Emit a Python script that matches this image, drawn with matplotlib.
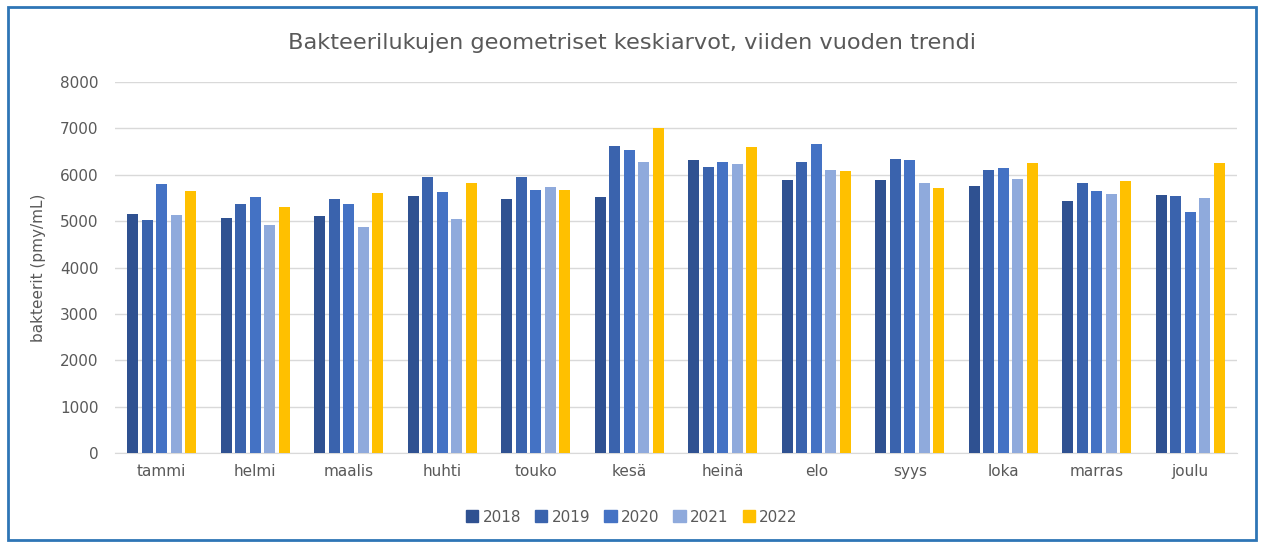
import numpy as np
import matplotlib.pyplot as plt
import matplotlib.patches as mpatches

# Kuukaudet ja vuodet
months = ['tammi', 'helmi', 'maalis', 'huhti', 'touko', 'kesä',
          'heinä', 'elo', 'syys', 'loka', 'marras', 'joulu']
years = ['2018', '2019', '2020', '2021', '2022']

v2018 = [5165, 5064, 5121, 5550, 5471, 5514, 6329, 5900, 5900, 5757, 5436, 5571]
v2019 = [5020, 5364, 5471, 5957, 5957, 6614, 6164, 6286, 6350, 6100, 5821, 5536]
v2020 = [5793, 5529, 5364, 5636, 5671, 6529, 6286, 6657, 6329, 6143, 5657, 5207]
v2021 = [5143, 4914, 4879, 5043, 5736, 6286, 6229, 6100, 5821, 5921, 5593, 5493]
v2022 = [5657, 5307, 5614, 5821, 5671, 7021, 6593, 6079, 5714, 6250, 5857, 6250]

series = [v2018, v2019, v2020, v2021, v2022]
colors = ['#2F5191', '#3A63AD', '#4472C4', '#8FAADC', '#FFC000']

grey = '#595959'

fig = plt.figure(figsize=(12.64, 5.42), dpi=100)
ax = fig.add_axes([0.091, 0.164, 0.8876, 0.6845])

x = np.arange(len(months))
width = 0.12
step = 0.155
for i, (vals, col) in enumerate(zip(series, colors)):
    ax.bar(x + (i - 2) * step, vals, width, color=col, label=years[i], zorder=3)

ax.set_xlim(-0.5, len(months) - 0.5)
ax.set_ylim(0, 8000)
ax.set_yticks(range(0, 8001, 1000))
ax.set_xticks(x)
ax.set_xticklabels(months)
ax.tick_params(axis='both', length=0, colors=grey, labelsize=11)
ax.tick_params(axis='x', pad=8)
ax.tick_params(axis='y', pad=12)
ax.grid(axis='y', color='#D9D9D9', linewidth=1, zorder=0)
for s in ['top', 'right', 'left']:
    ax.spines[s].set_visible(False)
ax.spines['bottom'].set_color('#D9D9D9')

ax.set_ylabel('bakteerit (pmy/mL)', color=grey, fontsize=11, labelpad=10)
fig.text(0.5, 0.92, 'Bakteerilukujen geometriset keskiarvot, viiden vuoden trendi',
         ha='center', va='center', fontsize=16.2, color=grey)

handles = [mpatches.Patch(color=c, label=y) for c, y in zip(colors, years)]
fig.legend(handles=handles, loc='center', bbox_to_anchor=(0.5, 0.046), ncol=5,
           frameon=False, fontsize=11, labelcolor=grey, handlelength=0.8,
           handleheight=0.8, handletextpad=0.3, columnspacing=0.9)

# Sininen kehys
frame = mpatches.Rectangle((0.006, 0.004), 0.988, 0.984, transform=fig.transFigure,
                           fill=False, edgecolor='#2E75B6', linewidth=2)
fig.patches.append(frame)

fig.savefig('out.png', dpi=100)
